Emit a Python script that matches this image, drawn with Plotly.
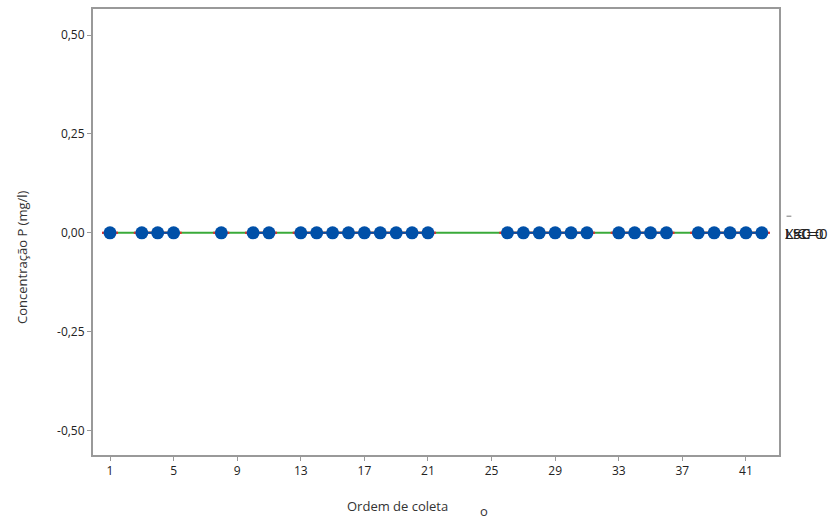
import plotly.graph_objects as go

# Sample order (observations present) and measured phosphorus concentration
ordem = [1, 3, 4, 5, 8, 10, 11, 13, 14, 15, 16, 17, 18, 19, 20, 21,
         26, 27, 28, 29, 30, 31, 33, 34, 35, 36, 38, 39, 40, 41, 42]
concentracao = [0.0] * len(ordem)

# Control limits and centre line
lsc = 0.0
media = 0.0
lic = 0.0
n_total = 42

x_ticks = [1, 5, 9, 13, 17, 21, 25, 29, 33, 37, 41]
y_ticks = [-0.50, -0.25, 0.00, 0.25, 0.50]
y_ticktext = [f"{v:.2f}".replace(".", ",") for v in y_ticks]

# Full series with gaps for missing samples (line not connected across gaps)
serie_x = list(range(1, n_total + 1))
valores = dict(zip(ordem, concentracao))
serie_y = [valores.get(i) for i in serie_x]

# Stepped control limits around each observed sample
def limite_steps(valor):
    xs, ys = [], []
    for i in ordem:
        xs += [i - 0.5, i + 0.5, None]
        ys += [valor, valor, None]
    return xs, ys

fig = go.Figure()

fig.add_trace(go.Scatter(x=[1, n_total], y=[media, media], mode="lines",
                         line=dict(color="#3aaa3a", width=2), hoverinfo="skip"))
for lim in (lsc, lic):
    lx, ly = limite_steps(lim)
    fig.add_trace(go.Scatter(x=lx, y=ly, mode="lines",
                             line=dict(color="#e0302a", width=2), hoverinfo="skip"))
fig.add_trace(go.Scatter(x=serie_x, y=serie_y, mode="lines+markers",
                         connectgaps=False,
                         line=dict(color="#0050a8", width=2),
                         marker=dict(color="#0050a8", size=13)))

font_family = "Open Sans, Noto Sans, sans-serif"

fig.update_layout(
    width=836, height=522,
    margin=dict(l=93, r=57, t=7, b=67),
    paper_bgcolor="white", plot_bgcolor="white",
    showlegend=False,
    font=dict(family=font_family, size=12, color="#222222"),
    xaxis=dict(range=[-0.07, 43.08], tickvals=x_ticks, ticks="outside",
               ticklen=4, tickwidth=1, tickcolor="#999999",
               showgrid=False, zeroline=False,
               showline=True, linecolor="#999999", linewidth=2, mirror=True,
               tickfont=dict(size=12, color="#222222")),
    yaxis=dict(range=[-0.562, 0.566], tickvals=y_ticks, ticktext=y_ticktext,
               ticks="outside", ticklen=4, tickwidth=1, tickcolor="#999999",
               showgrid=False, zeroline=False,
               showline=True, linecolor="#999999", linewidth=2, mirror=True,
               tickfont=dict(size=12, color="#222222")),
)

# Axis titles
fig.add_annotation(text="Ordem de coleta", xref="paper", yref="paper",
                   x=(397 - 93) / (779 - 93), y=-51 / 448, xanchor="center",
                   yanchor="middle", showarrow=False,
                   font=dict(size=13, color="#333333"))
fig.add_annotation(text="o", xref="paper", yref="paper",
                   x=(484 - 93) / (779 - 93), y=-56 / 448, xanchor="center",
                   yanchor="middle", showarrow=False,
                   font=dict(size=13, color="#333333"))
fig.add_annotation(text="Concentração P (mg/l)", xref="paper", yref="paper",
                   x=-71 / (779 - 93), y=(455 - 257) / 448, xanchor="center",
                   yanchor="middle", textangle=-90, showarrow=False,
                   font=dict(size=13, color="#333333"))

# Limit labels on the right (all equal, so they print on top of each other)
for txt in (f"LSC={lsc:g}", f"X={media:g}", f"LIC={lic:g}"):
    fig.add_annotation(text=txt, xref="paper", yref="y", x=1.006, y=media,
                       xanchor="left", yanchor="middle", showarrow=False,
                       font=dict(size=15, color="#222222"))
# Bar over the X of the centre-line label
fig.add_shape(type="line", xref="paper", yref="y",
              x0=1.011, x1=1.018, y0=media + 0.042, y1=media + 0.042,
              line=dict(color="#777777", width=1))

fig.write_html("out.html")
